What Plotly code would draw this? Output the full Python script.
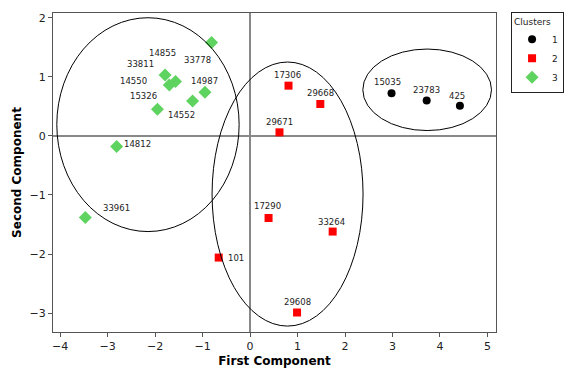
import plotly.graph_objects as go

# ---- data ----
c1_ids = ["15035", "23783", "425"]
c1_x = [2.98, 3.72, 4.42]
c1_y = [0.72, 0.60, 0.51]

c2_ids = ["17306", "29668", "29671", "17290", "33264", "101", "29608"]
c2_x = [0.81, 1.48, 0.62, 0.39, 1.74, -0.66, 0.99]
c2_y = [0.85, 0.54, 0.06, -1.39, -1.62, -2.06, -2.99]

c3_ids = ["33778", "14855", "14550", "33811", "14987", "14552", "15326", "14812", "33961"]
c3_x = [-0.81, -1.79, -1.70, -1.57, -0.95, -1.21, -1.95, -2.81, -3.47]
c3_y = [1.58, 1.03, 0.86, 0.92, 0.74, 0.59, 0.45, -0.18, -1.38]

# ellipses (center x, center y, radius x, radius y)
ell_cx = [-2.15, 0.79, 3.73]
ell_cy = [0.19, -0.985, 0.78]
ell_rx = [1.92, 1.59, 1.355]
ell_ry = [1.81, 2.235, 0.69]

x_ticks = [-4, -3, -2, -1, 0, 1, 2, 3, 4, 5]
y_ticks = [-3, -2, -1, 0, 1, 2]

# ---- label offsets (pixels) ----
c1_dx = [-4, 0, -3]
c1_dy = [11, 10, 10]
c2_dx = [-1, 0, 0, -1, -1, 17, 0]
c2_dy = [11, 11, 10, 12, 10, 0, 11]
c3_dx = [-14, -3, -36, -35, 0, -11, -14, 21, 31]
c3_dy = [-17, 22, 4, 18, 11, -14, 13, 3, 9]

FONT = "DejaVu Sans"
AXIS = "#555555"

fig = go.Figure()
fig.add_trace(go.Scatter(x=c1_x, y=c1_y, mode="markers", name="1",
                         marker=dict(symbol="circle", size=8, color="black")))
fig.add_trace(go.Scatter(x=c2_x, y=c2_y, mode="markers", name="2",
                         marker=dict(symbol="square", size=8, color="#FF0000")))
fig.add_trace(go.Scatter(x=c3_x, y=c3_y, mode="markers", name="3",
                         marker=dict(symbol="diamond", size=10, color="#5FD35F")))

annotations = []
for ids, xs, ys, dxs, dys in [(c1_ids, c1_x, c1_y, c1_dx, c1_dy),
                              (c2_ids, c2_x, c2_y, c2_dx, c2_dy),
                              (c3_ids, c3_x, c3_y, c3_dx, c3_dy)]:
    for t, x, y, dx, dy in zip(ids, xs, ys, dxs, dys):
        annotations.append(dict(x=x, y=y, xref="x", yref="y", text=t, showarrow=False,
                                xshift=dx, yshift=dy,
                                font=dict(family=FONT, size=8.5, color="#222222")))

shapes = []
for cx, cy, rx, ry in zip(ell_cx, ell_cy, ell_rx, ell_ry):
    shapes.append(dict(type="circle", xref="x", yref="y",
                       x0=cx - rx, x1=cx + rx, y0=cy - ry, y1=cy + ry,
                       line=dict(color="black", width=1), layer="above"))

# the page body has an 8px default margin, so the figure is 8px smaller
fig.update_layout(
    width=573, height=361,
    margin=dict(l=45, r=85, t=5, b=37, autoexpand=False),
    plot_bgcolor="white", paper_bgcolor="white",
    font=dict(family=FONT, size=11, color="#222222"),
    shapes=shapes, annotations=annotations,
    legend=dict(title=dict(text="Clusters", font=dict(size=9)),
                font=dict(size=9), x=1.034, y=1.003, xanchor="left", yanchor="top",
                bordercolor="#222222", borderwidth=1, bgcolor="white",
                itemwidth=30, tracegroupgap=0),
    xaxis=dict(range=[-4.15, 5.18], tickvals=x_ticks, ticks="outside", ticklen=4,
               tickcolor=AXIS,
               showline=True, linecolor=AXIS, linewidth=1, mirror=True,
               showgrid=False, zeroline=True, zerolinecolor="#888888", zerolinewidth=1.5,
               automargin=False,
               title=dict(text="<b>First Component</b>", font=dict(size=12, color="black"), standoff=4),
               tickfont=dict(size=11)),
    yaxis=dict(range=[-3.32, 2.08], tickvals=y_ticks, ticks="outside", ticklen=4,
               tickcolor=AXIS,
               showline=True, linecolor=AXIS, linewidth=1, mirror=True,
               showgrid=False, zeroline=True, zerolinecolor="#888888", zerolinewidth=1.5,
               automargin=False,
               title=dict(text="<b>Second Component</b>", font=dict(size=12, color="black"), standoff=5),
               tickfont=dict(size=11)),
)

fig.write_html("out.html")
